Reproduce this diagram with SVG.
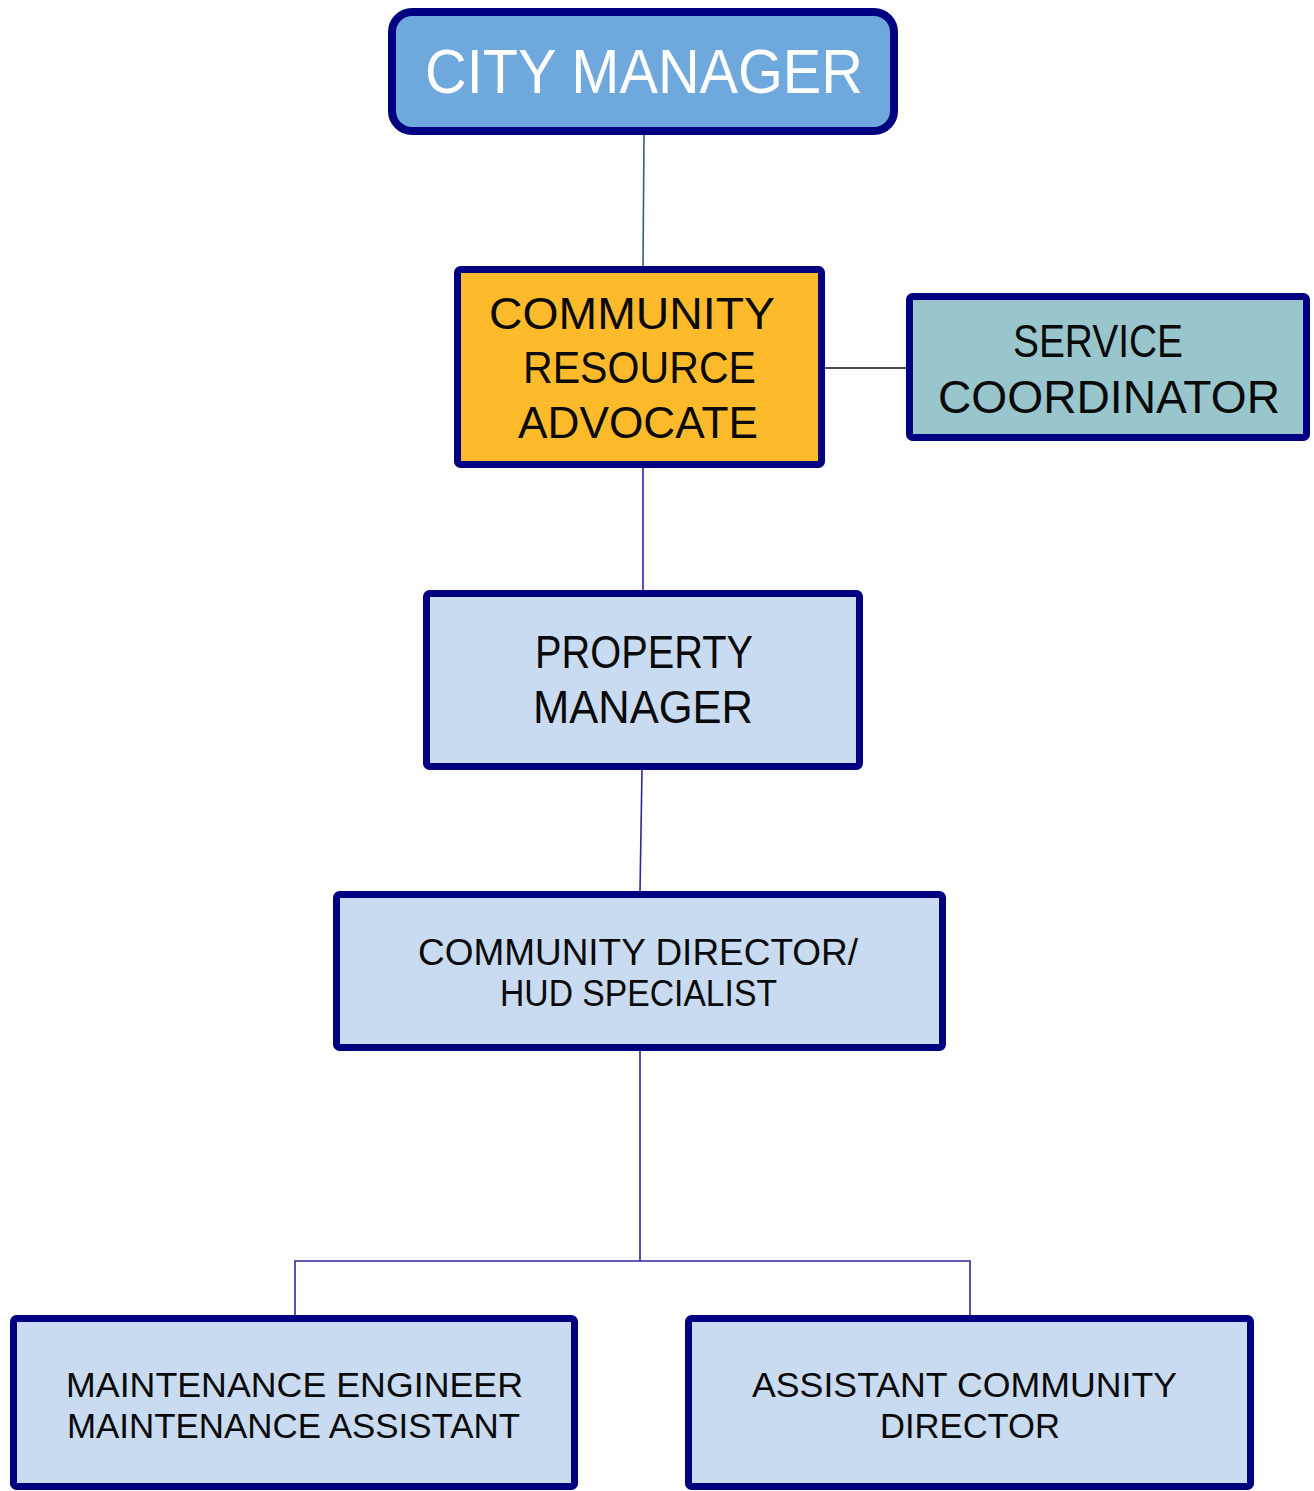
<svg xmlns="http://www.w3.org/2000/svg" width="1314" height="1491" viewBox="0 0 1314 1491">
<style>
  .box { stroke: #000080; stroke-width: 7; }
  .lb { fill: #c9dbf0; }
  .t { font-family: "Liberation Sans", Arial, sans-serif; fill: #0a0a0a; text-anchor: start; }
  .w { fill: #ffffff; }
  .conn { fill: none; stroke-width: 1.6; }
</style>
<rect width="1314" height="1491" fill="#ffffff"/>
<g id="connectors">
  <line class="conn" x1="644" y1="135" x2="643" y2="266" stroke="#2e6378"/>
  <line class="conn" x1="817" y1="368" x2="906" y2="368" stroke="#111111"/>
  <line class="conn" x1="643" y1="468" x2="643" y2="590" stroke="#2a2a96"/>
  <line class="conn" x1="642" y1="770" x2="640" y2="891" stroke="#2a2a96"/>
  <polyline class="conn" points="640,1051 640,1261" stroke="#2a2a96"/>
  <polyline class="conn" points="295,1315 295,1261 970,1261 970,1315" stroke="#2a2a96"/>
</g>
<g id="city-manager">
  <rect x="392" y="12" width="502" height="119" rx="20" fill="#6fa8dc" stroke="#000080" stroke-width="8"/>
  <text class="t w" x="425" y="93" font-size="63" textLength="438" lengthAdjust="spacingAndGlyphs">CITY MANAGER</text>
</g>
<g id="community-resource-advocate">
  <rect class="box" x="457.5" y="269.5" width="364" height="195" rx="3" fill="#fdbb2b"/>
  <text class="t" font-size="45" x="489" y="329" textLength="286" lengthAdjust="spacingAndGlyphs">COMMUNITY</text>
  <text class="t" font-size="45" x="523" y="383" textLength="233" lengthAdjust="spacingAndGlyphs">RESOURCE</text>
  <text class="t" font-size="45" x="518" y="438" textLength="240" lengthAdjust="spacingAndGlyphs">ADVOCATE</text>
</g>
<g id="service-coordinator">
  <rect class="box" x="909.5" y="296.5" width="397" height="141" rx="3" fill="#98c6cc"/>
  <text class="t" font-size="46" x="1013" y="357" textLength="170" lengthAdjust="spacingAndGlyphs">SERVICE</text>
  <text class="t" font-size="46" x="938" y="413" textLength="342" lengthAdjust="spacingAndGlyphs">COORDINATOR</text>
</g>
<g id="property-manager">
  <rect class="box lb" x="426.5" y="593.5" width="433" height="173" rx="3"/>
  <text class="t" font-size="46" x="535" y="668" textLength="218" lengthAdjust="spacingAndGlyphs">PROPERTY</text>
  <text class="t" font-size="46" x="533" y="723" textLength="220" lengthAdjust="spacingAndGlyphs">MANAGER</text>
</g>
<g id="community-director">
  <rect class="box lb" x="336.5" y="894.5" width="606" height="153" rx="3"/>
  <text class="t" font-size="37" x="418" y="965" textLength="440" lengthAdjust="spacingAndGlyphs">COMMUNITY DIRECTOR/</text>
  <text class="t" font-size="37" x="500" y="1006" textLength="277" lengthAdjust="spacingAndGlyphs">HUD SPECIALIST</text>
</g>
<g id="maintenance">
  <rect class="box lb" x="13.5" y="1318.5" width="561" height="168" rx="3"/>
  <text class="t" font-size="35" x="66" y="1397" textLength="457" lengthAdjust="spacingAndGlyphs">MAINTENANCE ENGINEER</text>
  <text class="t" font-size="35" x="67" y="1438" textLength="453" lengthAdjust="spacingAndGlyphs">MAINTENANCE ASSISTANT</text>
</g>
<g id="assistant-community-director">
  <rect class="box lb" x="688.5" y="1318.5" width="562" height="168" rx="3"/>
  <text class="t" font-size="35" x="752" y="1397" textLength="425" lengthAdjust="spacingAndGlyphs">ASSISTANT COMMUNITY</text>
  <text class="t" font-size="35" x="880" y="1438" textLength="180" lengthAdjust="spacingAndGlyphs">DIRECTOR</text>
</g>
</svg>
